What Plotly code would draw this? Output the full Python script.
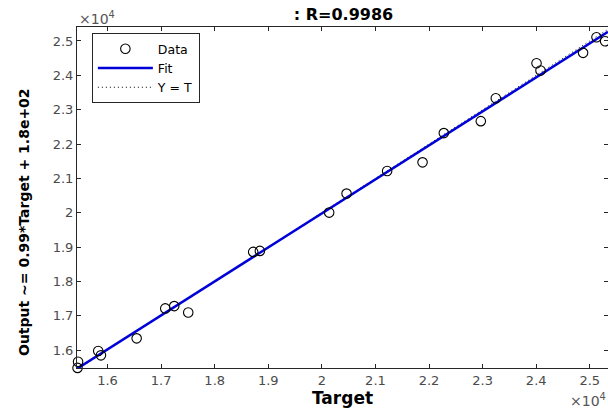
import plotly.graph_objects as go

# ---- data ----
targets = [15440, 15450, 15826, 15877, 16543, 17077, 17245, 17506, 18718, 18843,
           20136, 20461, 21218, 21879, 22276, 22966, 23246, 24006, 24080, 24875,
           25125, 25286]
outputs = [15480, 15660, 15970, 15846, 16340, 17212, 17279, 17095, 18858, 18887,
           20003, 20555, 21212, 21465, 22317, 22666, 23334, 24352, 24140, 24654,
           25108, 24992]
fit_slope = 0.99
fit_intercept = 180.0
r_value = 0.9986
tick_vals = [16000, 17000, 18000, 19000, 20000, 21000, 22000, 23000, 24000, 25000]
tick_text = ["1.6", "1.7", "1.8", "1.9", "2", "2.1", "2.2", "2.3", "2.4", "2.5"]
x_range = [15430, 25340]
y_range = [15477, 25407]

FONT = "DejaVu Sans, Liberation Sans, Arial, sans-serif"
AX = "#262626"

line_x = [x_range[0], x_range[1]]
fit_y = [fit_slope * v + fit_intercept for v in line_x]

fig = go.Figure()
fig.add_trace(go.Scatter(x=line_x, y=line_x, mode="lines", name="Y = T",
                         line=dict(color="black", width=1, dash="1px,3px"), legendrank=3))
fig.add_trace(go.Scatter(x=line_x, y=fit_y, mode="lines", name="Fit",
                         line=dict(color="#0000d8", width=2.5), legendrank=2))
fig.add_trace(go.Scatter(x=targets, y=outputs, mode="markers", name="Data",
                         marker=dict(symbol="circle-open", size=9.5, color="black",
                                     line=dict(width=1.1, color="black")),
                         cliponaxis=False, legendrank=1))

axis_common = dict(
    tickvals=tick_vals, ticktext=tick_text, ticks="inside", ticklen=4,
    tickcolor=AX, showline=True, linecolor=AX, linewidth=1, mirror="ticks",
    showgrid=False, zeroline=False, automargin=False,
    tickfont=dict(family=FONT, size=13, color="#4a4a4a"),
)

fig.update_layout(
    width=608, height=410,
    margin=dict(l=77, r=0, t=27, b=42, autoexpand=False),
    paper_bgcolor="white", plot_bgcolor="white",
    font=dict(family=FONT, color="black"),
    title=dict(text=f"<b>: R={r_value}</b>", x=(343.5 / 608), xanchor="center",
               y=1 - 14 / 410, yanchor="middle", automargin=False,
               font=dict(family=FONT, size=16, color="black")),
    xaxis=dict(range=x_range, **axis_common,
               title=dict(text="<b>Target</b>", standoff=0,
                          font=dict(family=FONT, size=17, color="black"))),
    yaxis=dict(range=y_range, **axis_common),
    legend=dict(x=0.028, y=0.982, xanchor="left", yanchor="top",
                bgcolor="white", bordercolor=AX, borderwidth=1,
                font=dict(family=FONT, size=12.5, color="black"),
                itemwidth=55, tracegroupgap=0),
    showlegend=True,
)

fig.add_annotation(text="<b>Output ~= 0.99*Target + 1.8e+02</b>", textangle=-90,
                   xref="paper", yref="paper", x=(24 - 77) / 531, y=(368 - 222) / 341,
                   xanchor="center", yanchor="middle", showarrow=False,
                   font=dict(family=FONT, size=14, color="black"))
fig.add_annotation(text="×10<sup>4</sup>", xref="paper", yref="paper",
                   x=0.0, y=1.0, xanchor="left", yanchor="bottom", yshift=-2,
                   showarrow=False, font=dict(family=FONT, size=14, color="#555555"))
fig.add_annotation(text="×10<sup>4</sup>", xref="paper", yref="paper",
                   x=(568 - 77) / 531, y=(368 - 400) / 341, xanchor="left",
                   yanchor="middle", showarrow=False,
                   font=dict(family=FONT, size=14, color="#555555"))

fig.write_html("out.html", config={"displayModeBar": False},
               post_script="document.body.style.margin='0';document.body.style.overflow='hidden';")
